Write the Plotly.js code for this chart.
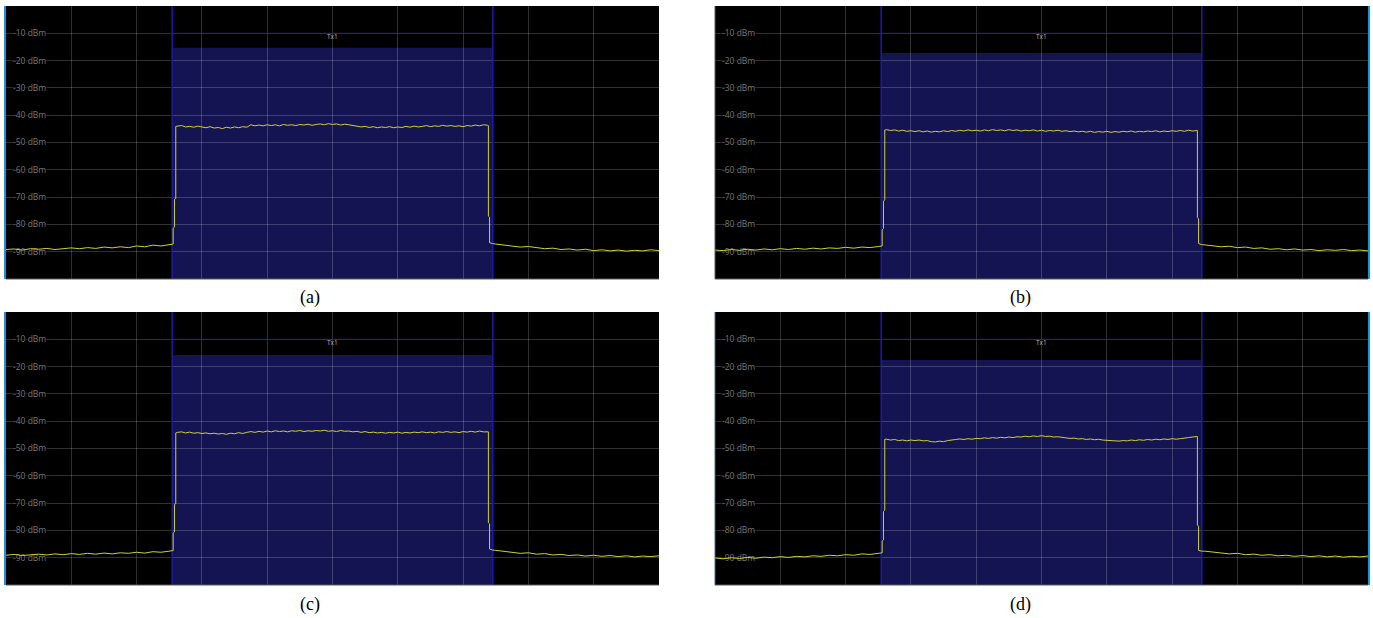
<!DOCTYPE html>
<html>
<head>
<meta charset="utf-8">
<script src="https://cdn.plot.ly/plotly-3.0.1.min.js"></script>
<style>html,body{margin:0;padding:0;background:#fff;}#chart{width:1373px;height:618px;}</style>
</head>
<body>
<div id="chart"></div>
<script>
// Frequency offset from channel centre (MHz), sweep points
const xLeft = [-20,-19.5,-19,-18.5,-18,-17.5,-17,-16.5,-16,-15.5,-15,-14.5,-14,-13.5,-13,-12.5,-12,-11.5,-11,-10.5,-10];
const xEdgeL = [-9.82,-9.76,-9.76,-9.68,-9.68,-9.6,-9.6];
const xIn = [-9.5,-9.25,-9,-8.75,-8.5,-8.25,-8,-7.75,-7.5,-7.25,-7,-6.75,-6.5,-6.25,-6,-5.75,-5.5,-5.25,-5,-4.75,-4.5,-4.25,-4,-3.75,-3.5,-3.25,-3,-2.75,-2.5,-2.25,-2,-1.75,-1.5,-1.25,-1,-0.75,-0.5,-0.25,0,0.25,0.5,0.75,1,1.25,1.5,1.75,2,2.25,2.5,2.75,3,3.25,3.5,3.75,4,4.25,4.5,4.75,5,5.25,5.5,5.75,6,6.25,6.5,6.75,7,7.25,7.5,7.75,8,8.25,8.5,8.75,9,9.25,9.5];
const xEdgeR = [9.55,9.55,9.62,9.62,9.7,9.8];
const xRight = [10,10.5,11,11.5,12,12.5,13,13.5,14,14.5,15,15.5,16,16.5,17,17.5,18,18.5,19,19.5,20];

// Channel (Tx1) edges in MHz and band-marker top level (dBm) per panel
const chanLo = -9.82, chanHi = 9.82;
const panelNames = ["(a)", "(b)", "(c)", "(d)"];
const barTop = [-15.3, -17.2, -15.75, -17.6];

// Level values (dBm) per panel
const aLeft = [-89.2,-89.0,-89.4,-88.9,-89.1,-88.8,-89.2,-88.9,-88.6,-88.9,-88.5,-88.8,-88.3,-88.6,-88.2,-88.5,-87.9,-88.2,-87.6,-87.9,-87.4];
const aEdgeL = [-87.3,-87.2,-81.4,-81.0,-70.8,-70.5,-44.1];
const aIn = [-44.0,-43.8,-44.3,-44.1,-44.4,-44.0,-44.3,-44.6,-44.2,-44.7,-44.5,-44.9,-44.4,-44.7,-44.3,-44.6,-44.2,-44.4,-43.5,-43.9,-43.6,-43.9,-43.5,-43.8,-43.5,-43.9,-43.4,-43.7,-43.5,-43.8,-43.4,-43.6,-43.3,-43.7,-43.4,-43.2,-43.5,-43.1,-43.4,-43.2,-43.6,-43.3,-43.5,-43.7,-44.0,-44.3,-44.1,-44.5,-44.2,-44.6,-44.3,-44.5,-44.2,-44.6,-44.3,-44.5,-44.1,-44.4,-44.0,-44.3,-44.1,-43.8,-44.2,-43.9,-44.1,-43.7,-44.0,-43.8,-44.1,-43.9,-44.2,-43.8,-44.0,-43.6,-43.9,-43.5,-43.7];
const aEdgeR = [-43.8,-77.0,-77.4,-86.7,-86.9,-87.0];
const aRight = [-87.2,-87.6,-87.9,-88.3,-88.1,-88.6,-88.9,-88.7,-89.2,-89.0,-89.4,-89.1,-89.6,-89.3,-89.7,-89.4,-89.8,-89.5,-89.7,-89.3,-89.6];

const bLeft = [-89.4,-89.6,-89.2,-89.5,-89.1,-89.4,-89.0,-89.3,-88.9,-89.2,-88.8,-89.1,-88.7,-89.0,-88.6,-88.8,-88.4,-88.7,-88.3,-88.5,-88.1];
const bEdgeL = [-88.0,-87.9,-82.0,-81.5,-71.5,-71.0,-45.4];
const bIn = [-45.3,-45.6,-45.4,-45.8,-45.5,-45.9,-45.7,-46.0,-45.7,-46.1,-45.8,-46.2,-45.9,-46.1,-45.7,-46.0,-45.6,-45.9,-45.5,-45.8,-45.4,-45.7,-45.5,-45.8,-45.4,-45.7,-45.3,-45.6,-45.4,-45.7,-45.3,-45.6,-45.4,-45.8,-45.5,-45.7,-45.4,-45.8,-45.5,-45.9,-45.6,-45.8,-45.5,-45.9,-45.7,-46.0,-45.8,-46.1,-45.9,-46.2,-45.9,-46.3,-46.0,-46.2,-45.9,-46.3,-46.0,-46.2,-45.9,-46.1,-45.8,-46.2,-45.9,-46.1,-45.8,-46.0,-45.7,-46.1,-45.8,-46.0,-45.7,-45.9,-45.6,-45.9,-45.5,-45.8,-45.6];
const bEdgeR = [-45.6,-77.5,-78.0,-87.0,-87.3,-87.4];
const bRight = [-87.5,-87.9,-88.2,-88.0,-88.5,-88.3,-88.8,-88.6,-89.1,-88.9,-89.3,-89.0,-89.4,-89.2,-89.6,-89.3,-89.5,-89.2,-89.6,-89.4,-89.7];

const cLeft = [-89.1,-88.8,-89.2,-88.9,-88.7,-89.0,-88.6,-88.9,-88.5,-88.8,-88.4,-88.7,-88.3,-88.6,-88.2,-88.4,-88.0,-88.3,-87.8,-88.0,-87.6];
const cEdgeL = [-87.5,-87.4,-81.0,-80.6,-70.5,-70.2,-44.3];
const cIn = [-44.1,-43.9,-44.3,-44.0,-44.4,-44.2,-44.5,-44.3,-44.6,-44.4,-44.7,-44.5,-44.8,-44.4,-44.6,-44.2,-44.5,-44.1,-43.8,-44.1,-43.7,-44.0,-43.6,-43.9,-43.5,-43.8,-43.6,-43.9,-43.5,-43.7,-43.4,-43.8,-43.5,-43.7,-43.4,-43.6,-43.3,-43.7,-43.5,-43.8,-43.4,-43.7,-43.6,-43.9,-43.7,-44.1,-43.8,-44.2,-44.0,-44.3,-44.1,-44.4,-44.1,-44.3,-44.0,-44.4,-44.1,-44.3,-44.0,-44.2,-43.9,-44.2,-44.0,-44.3,-43.9,-44.1,-43.8,-44.1,-43.9,-44.2,-43.8,-44.0,-43.7,-44.0,-43.6,-43.9,-43.7];
const cEdgeR = [-43.9,-77.2,-77.6,-86.8,-87.0,-87.2];
const cRight = [-87.3,-87.7,-88.0,-88.4,-88.2,-88.7,-88.5,-89.0,-88.8,-89.2,-89.0,-89.4,-89.1,-89.5,-89.2,-89.6,-89.3,-89.7,-89.4,-89.6,-89.3];

const dLeft = [-90.1,-90.4,-90.0,-90.3,-89.9,-90.2,-89.8,-90.0,-89.6,-89.9,-89.5,-89.7,-89.3,-89.5,-89.1,-89.3,-88.9,-89.1,-88.6,-88.8,-88.4];
const dEdgeL = [-88.3,-88.2,-83.9,-83.5,-73.1,-72.6,-46.6];
const dIn = [-46.6,-46.9,-46.7,-47.1,-46.9,-47.2,-46.9,-47.1,-46.9,-47.2,-47.1,-47.5,-47.6,-47.3,-47.5,-47.1,-47.0,-46.7,-46.5,-46.7,-46.4,-46.6,-46.3,-46.4,-46.1,-46.3,-46.0,-46.2,-45.9,-46.1,-45.8,-46.0,-45.7,-45.8,-45.5,-45.7,-45.4,-45.6,-45.3,-45.6,-45.5,-45.8,-45.7,-46.0,-46.1,-46.3,-46.2,-46.5,-46.4,-46.7,-46.5,-46.8,-46.6,-46.9,-47.0,-47.2,-47.1,-47.3,-47.1,-47.2,-46.9,-47.1,-46.8,-47.0,-46.7,-46.9,-46.6,-46.8,-46.5,-46.7,-46.4,-46.6,-46.4,-46.3,-46.0,-45.8,-45.6];
const dEdgeR = [-45.6,-78.0,-78.5,-87.3,-87.5,-87.6];
const dRight = [-87.6,-88.0,-88.3,-88.6,-88.4,-88.9,-88.7,-89.1,-88.9,-89.3,-89.1,-89.5,-89.2,-89.6,-89.3,-89.7,-89.4,-89.8,-89.5,-89.7,-89.4];

const yTickVals = [-10,-20,-30,-40,-50,-60,-70,-80,-90];
const yTickText = ["-10 dBm","-20 dBm","-30 dBm","-40 dBm","-50 dBm","-60 dBm","-70 dBm","-80 dBm","-90 dBm"];

const xAll = [].concat(xLeft, xEdgeL, xIn, xEdgeR, xRight);
const series = [
  [].concat(aLeft, aEdgeL, aIn, aEdgeR, aRight),
  [].concat(bLeft, bEdgeL, bIn, bEdgeR, bRight),
  [].concat(cLeft, cEdgeL, cIn, cEdgeR, cRight),
  [].concat(dLeft, dEdgeL, dIn, dEdgeR, dRight)
];

// Layout geometry (pixels)
const W = 1373, H = 618;
const px = [[6, 659], [715, 1368], [6, 659], [715, 1368]];
const py = [[6, 279], [6, 279], [312, 585], [312, 585]];
const capX = [310, 1020, 310, 1020];
const capY = [297, 297, 604, 604];

const data = [];
const layout = {
  width: W, height: H,
  margin: {l: 0, r: 0, t: 0, b: 0},
  paper_bgcolor: "#ffffff",
  plot_bgcolor: "#000000",
  showlegend: false,
  shapes: [], annotations: []
};

const GRID = "rgba(255,255,255,0.19)";
for (let i = 0; i < 4; i++) {
  const n = i === 0 ? "" : String(i + 1);
  const xa = "x" + n, ya = "y" + n;
  data.push({
    type: "scatter", mode: "lines",
    x: xAll, y: series[i],
    xaxis: xa, yaxis: ya,
    line: {color: "#cfcf3a", width: 1},
    hoverinfo: "skip"
  });
  layout["xaxis" + n] = {
    domain: [px[i][0] / W, px[i][1] / W],
    anchor: ya,
    range: [-20, 20],
    tick0: -20, dtick: 4,
    showgrid: true, gridcolor: GRID, gridwidth: 1,
    zeroline: false, showline: false, showticklabels: false, ticks: "",
    fixedrange: true
  };
  layout["yaxis" + n] = {
    domain: [1 - py[i][1] / H, 1 - py[i][0] / H],
    anchor: xa,
    range: [-100, 0],
    tickvals: yTickVals, ticktext: yTickText,
    ticklabelposition: "inside",
    ticklabelstandoff: 4,
    tickfont: {family: "Open Sans, Roboto, sans-serif", size: 8.5, color: "#767676",
               shadow: "0 0 2px #000, 0 0 2px #000, 0 0 3px #000, 0 0 3px #000"},
    layer: "below traces",
    showgrid: true, gridcolor: GRID, gridwidth: 1,
    zeroline: false, showline: false, ticks: "",
    fixedrange: true
  };
  // Channel band fill
  layout.shapes.push({type: "rect", xref: xa, yref: ya, x0: chanLo, x1: chanHi, y0: -100, y1: barTop[i],
    fillcolor: "#141452", line: {width: 0}, layer: "below"});
  // Channel edge lines
  layout.shapes.push({type: "line", xref: xa, yref: ya, x0: chanLo, x1: chanLo, y0: -100, y1: 0,
    line: {color: "#1c1ca6", width: 1.5}, layer: "between"});
  layout.shapes.push({type: "line", xref: xa, yref: ya, x0: chanHi, x1: chanHi, y0: -100, y1: 0,
    line: {color: "#1c1ca6", width: 1.5}, layer: "between"});
  layout.shapes.push({type: "line", xref: xa, yref: ya, x0: chanLo, x1: chanHi, y0: -10, y1: -10,
    line: {color: "#26267e", width: 1}, layer: "between"});
  // Bottom frame line
  layout.shapes.push({type: "line", xref: "paper", yref: "paper",
    x0: px[i][0] / W, x1: px[i][1] / W, y0: 1 - py[i][1] / H, y1: 1 - py[i][1] / H,
    line: {color: "#5a5a5a", width: 1}});
  // Side highlight
  const left = (i % 2 === 0);
  if (left) {
    layout.shapes.push({type: "rect", xref: "paper", yref: "paper",
      x0: (px[i][0] - 2) / W, x1: px[i][0] / W, y0: 1 - py[i][1] / H, y1: 1 - py[i][0] / H,
      fillcolor: "#1e90e0", line: {width: 0}});
  } else {
    layout.shapes.push({type: "rect", xref: "paper", yref: "paper",
      x0: px[i][1] / W, x1: (px[i][1] + 2) / W, y0: 1 - py[i][1] / H, y1: 1 - py[i][0] / H,
      fillcolor: "#1e90e0", line: {width: 0}});
    layout.shapes.push({type: "line", xref: "paper", yref: "paper",
      x0: px[i][0] / W, x1: px[i][0] / W, y0: 1 - py[i][1] / H, y1: 1 - py[i][0] / H,
      line: {color: i === 3 ? "#4a6488" : "#5a5a5a", width: 1}});
  }
  // Tx1 label
  layout.annotations.push({xref: xa, yref: ya, x: 0, y: -11, text: "Tx1", showarrow: false,
    font: {family: "Open Sans, sans-serif", size: 6.5, color: "#b4b4b4"}, yanchor: "middle"});
  // Caption
  layout.annotations.push({xref: "paper", yref: "paper", x: capX[i] / W, y: 1 - capY[i] / H,
    text: panelNames[i], showarrow: false, xanchor: "center", yanchor: "middle",
    font: {family: "Liberation Serif", size: 18, color: "#000"}});
}

Plotly.newPlot("chart", data, layout, {staticPlot: true, displayModeBar: false});
</script>
</body>
</html>
